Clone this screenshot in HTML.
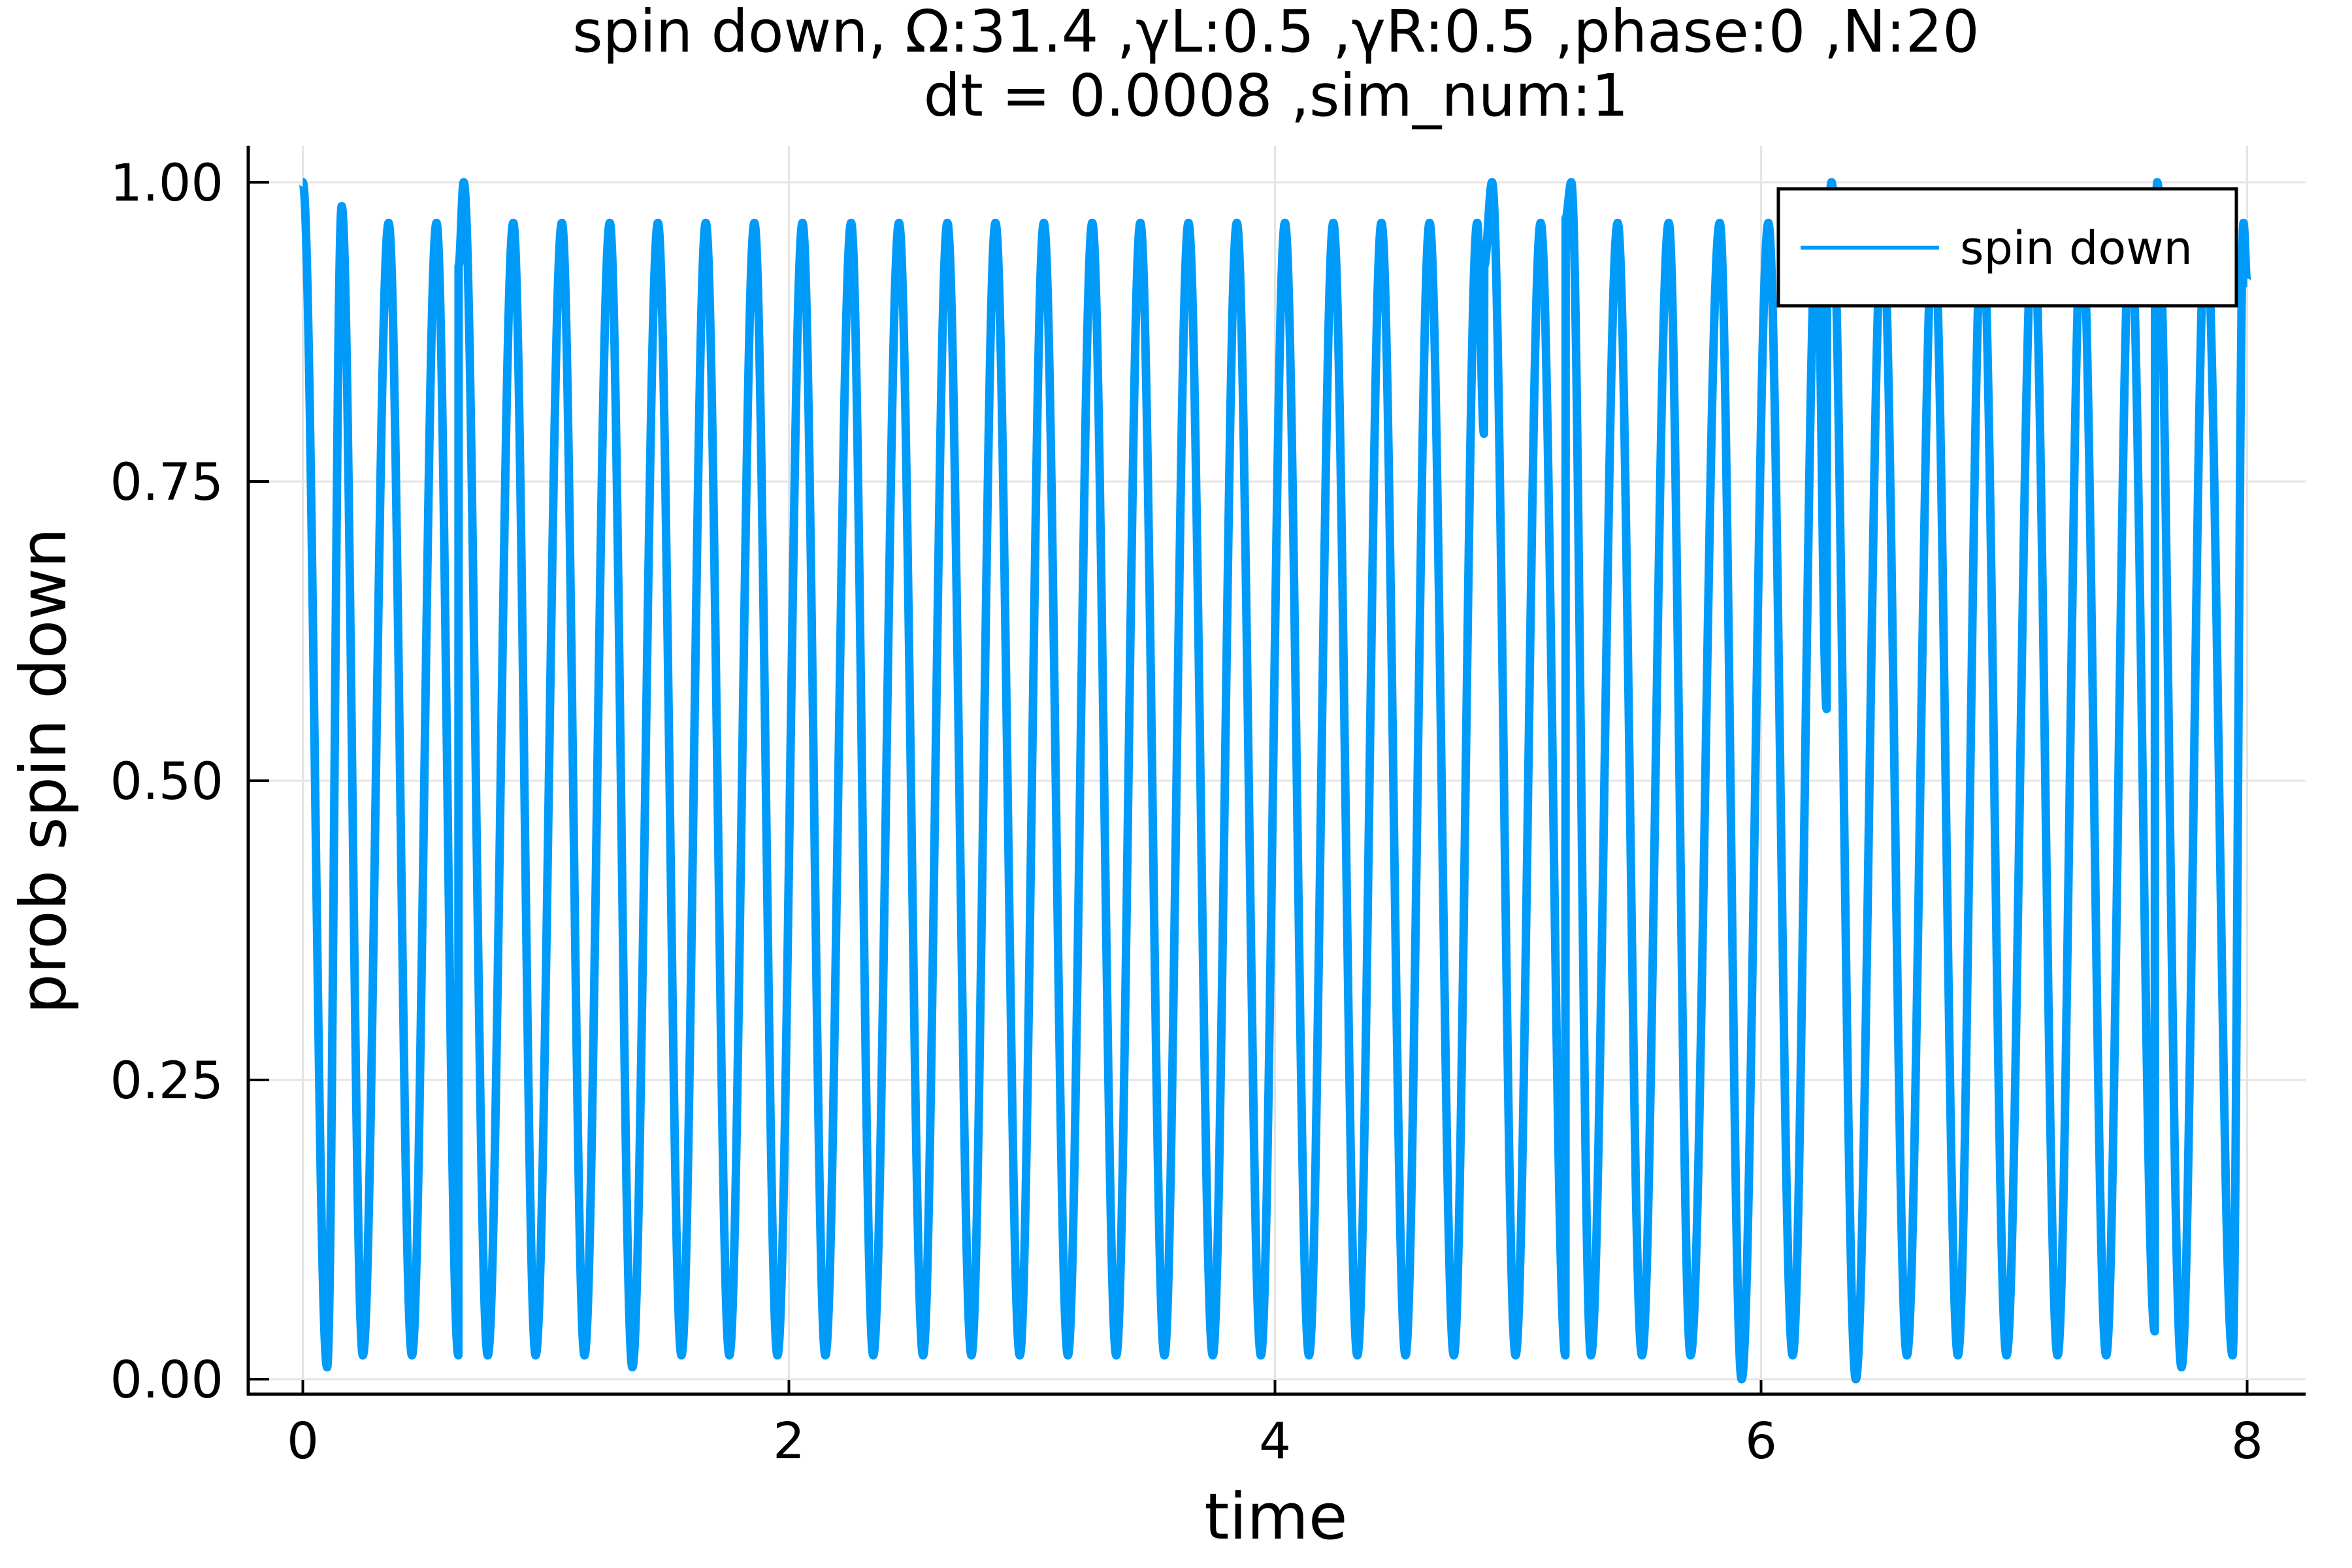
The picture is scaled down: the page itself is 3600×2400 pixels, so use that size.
<!DOCTYPE html>
<html><head><meta charset="utf-8"><style>
html,body{margin:0;padding:0;background:#fff;}
svg{display:block;font-family:"DejaVu Sans","Liberation Sans",sans-serif;}
</style></head><body>
<svg id="chart" width="3600" height="2400" viewBox="0 0 3600 2400">
<rect width="3600" height="2400" fill="#fff"/>
<g id="grid"></g>
<g id="axes"></g>
<path id="series" fill="none" stroke="#009af9" stroke-width="13" stroke-linejoin="round"/>
<text x="1953" y="79" text-anchor="middle" font-size="89">spin down, Ω:31.4 ,γL:0.5 ,γR:0.5 ,phase:0 ,N:20</text>
<text x="1953" y="177" text-anchor="middle" font-size="89">dt = 0.0008 ,sim_num:1</text>
<text x="1953" y="2355" text-anchor="middle" font-size="97">time</text>
<text transform="translate(100,1180) rotate(-90)" text-anchor="middle" font-size="97">prob spin down</text>
<g>
<rect x="2722" y="289" width="701" height="179" fill="#fff" stroke="#000" stroke-width="5"/>
<line x1="2756" y1="379" x2="2968" y2="379" stroke="#009af9" stroke-width="6"/>
<text x="3000" y="404" font-size="70">spin down</text>
</g>
</svg>
<script>
const xTicks = [0, 2, 4, 6, 8];
const yTicks = [0, 0.25, 0.5, 0.75, 1.0];
const yTickLabels = ["0.00", "0.25", "0.50", "0.75", "1.00"];
// extrema (time, value) of the trajectory; equal consecutive times = jump
const times = [0.0,0.10,0.160,0.247,0.353,0.449,0.550,0.640,0.641,0.662,0.761,0.866,0.958,1.066,1.159,1.263,1.356,1.461,1.558,1.658,1.755,1.858,1.953,2.056,2.150,2.256,2.347,2.453,2.552,2.652,2.751,2.850,2.950,3.049,3.148,3.248,3.347,3.446,3.545,3.644,3.744,3.843,3.942,4.041,4.140,4.240,4.339,4.438,4.537,4.636,4.736,4.832,4.860,4.861,4.893,4.99,5.093,5.195,5.196,5.219,5.30,5.41,5.51,5.62,5.71,5.83,5.92,6.03,6.13,6.23,6.270,6.271,6.29,6.39,6.50,6.60,6.71,6.81,6.91,7.01,7.12,7.22,7.32,7.42,7.52,7.620,7.621,7.63,7.73,7.83,7.94,7.985,8.0];
const values = [1.0,0.01,0.98,0.02,0.966,0.02,0.966,0.02,0.93,1.0,0.02,0.966,0.02,0.966,0.02,0.966,0.01,0.966,0.02,0.966,0.02,0.966,0.02,0.966,0.02,0.966,0.02,0.966,0.02,0.966,0.02,0.966,0.02,0.966,0.02,0.966,0.02,0.966,0.02,0.966,0.02,0.966,0.02,0.966,0.02,0.966,0.02,0.966,0.02,0.966,0.02,0.966,0.79,0.93,1.0,0.02,0.966,0.02,0.97,1.0,0.02,0.966,0.02,0.966,0.02,0.966,0.0,0.966,0.02,0.966,0.56,0.95,1.0,0.0,0.966,0.02,0.966,0.02,0.966,0.02,0.966,0.02,0.966,0.02,0.966,0.04,0.96,1.0,0.01,0.966,0.02,0.966,0.916];

const X0=463.5, XS=372, Y0=2111, YS=1832;
const L=380, R=3529, T=223, B=2134;
const sx = t => X0 + t*XS;
const sy = v => Y0 - v*YS;
const NS="http://www.w3.org/2000/svg";
const grid=document.getElementById('grid'), axes=document.getElementById('axes');
function mk(tag, attrs, parent){const e=document.createElementNS(NS,tag);for(const k in attrs)e.setAttribute(k,attrs[k]);parent.appendChild(e);return e;}

xTicks.forEach(t=>{
  const g=mk('line',{x1:sx(t),x2:sx(t),y1:T,y2:B,stroke:'#e4e4e4','stroke-width':3},grid);
  
  
  const tk=mk('line',{x1:sx(t),x2:sx(t),y1:B,y2:B-22,stroke:'#000','stroke-width':4},axes);
  
  
  const tx=mk('text',{x:sx(t),y:2232,'text-anchor':'middle','font-size':77},axes);
  tx.textContent=String(t);
  
  
});
yTicks.forEach((v,i)=>{
  const g=mk('line',{x1:L,x2:R,y1:sy(v),y2:sy(v),stroke:'#e4e4e4','stroke-width':3},grid);
  
  
  const tk=mk('line',{x1:L,x2:L+32,y1:sy(v),y2:sy(v),stroke:'#000','stroke-width':4},axes);
  
  
  const tx=mk('text',{x:342,y:sy(v)+28,'text-anchor':'end','font-size':78},axes);
  tx.textContent=yTickLabels[i];
  
  
});
const ax1=mk('line',{x1:L,x2:L,y1:T,y2:B+2,stroke:'#000','stroke-width':5},axes);


const ax2=mk('line',{x1:L-2,x2:R,y1:B,y2:B,stroke:'#000','stroke-width':5},axes);



let d='M'+sx(times[0])+','+sy(values[0]);
for(let i=1;i<times.length;i++){
  const x0=sx(times[i-1]), y0=sy(values[i-1]), x1=sx(times[i]), y1=sy(values[i]);
  const dx=x1-x0;
  if(dx<3){ d+=' L'+x1+','+y1; }
  else { d+=' C'+(x0+dx*0.36)+','+y0+' '+(x1-dx*0.36)+','+y1+' '+x1+','+y1; }
}
document.getElementById('series').setAttribute('d',d);
</script>
</body></html>
